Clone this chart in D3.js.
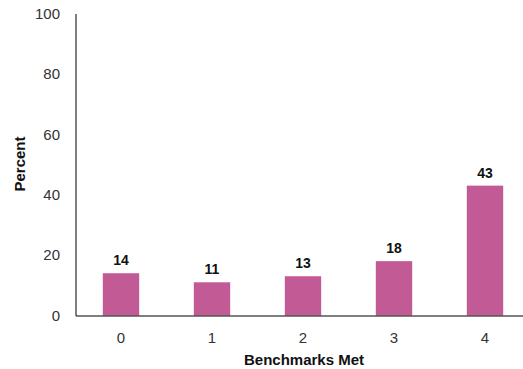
<!DOCTYPE html>
<html>
<head>
<meta charset="utf-8">
<script src="https://cdn.jsdelivr.net/npm/d3@7"></script>
<style>
  body { margin: 0; background: #fff; }
  svg { display: block; font-family: "Liberation Sans", Arial, sans-serif; }
</style>
</head>
<body>
<div id="chart"></div>
<script>
const categories = ["0", "1", "2", "3", "4"];
const percents = [14, 11, 13, 18, 43];
const yTicks = [0, 20, 40, 60, 80, 100];

const width = 523, height = 369;
const plotLeft = 75.5, plotTop = 13.5, plotBottom = 315.5;

const svg = d3.select('#chart')
    .append('svg')
    .attr('width', width)
    .attr('height', height);

const x = d3.scaleBand()
    .domain(categories)
    .range([plotLeft, 530.5])
    .paddingInner(0.6)
    .paddingOuter(0.3);

const y = d3.scaleLinear()
    .domain([0, 100])
    .range([plotBottom, plotTop]);

// bars
svg.selectAll('rect.bar')
    .data(percents)
    .join('rect')
    .attr('class', 'bar')
    .attr('x', (d, i) => x(categories[i]))
    .attr('y', d => y(d))
    .attr('width', x.bandwidth())
    .attr('height', d => y(0) - y(d))
    .attr('fill', '#c25b95');

// value labels
svg.selectAll('text.val')
    .data(percents)
    .join('text')
    .attr('class', 'val')
    .attr('x', (d, i) => x(categories[i]) + x.bandwidth() / 2)
    .attr('y', d => y(d) - 8)
    .attr('text-anchor', 'middle')
    .attr('font-size', 14)
    .attr('font-weight', 'bold')
    .attr('fill', '#111')
    .text(d => d);

const yAxis = svg.append('g')
    .attr('transform', `translate(${plotLeft},0)`)
    .call(d3.axisLeft(y).tickValues(yTicks).tickSize(0).tickPadding(15.5));

const xAxis = svg.append('g')
    .attr('transform', `translate(0,${plotBottom})`)
    .call(d3.axisBottom(x).tickSize(0).tickPadding(17));

[yAxis, xAxis].forEach(g => {
    g.select('.domain').attr('stroke', '#000').attr('stroke-width', 1);
    g.selectAll('text')
        .attr('font-size', 15)
        .attr('fill', '#333')
        .attr('font-family', '"Liberation Sans", Arial, sans-serif');
});

// axis titles
svg.append('text')
    .attr('x', 304)
    .attr('y', 365)
    .attr('text-anchor', 'middle')
    .attr('font-size', 15)
    .attr('font-weight', 'bold')
    .attr('fill', '#111')
    .text('Benchmarks Met');

svg.append('text')
    .attr('transform', 'translate(25,164) rotate(-90)')
    .attr('text-anchor', 'middle')
    .attr('font-size', 15)
    .attr('font-weight', 'bold')
    .attr('fill', '#111')
    .text('Percent');
</script>
</body>
</html>
